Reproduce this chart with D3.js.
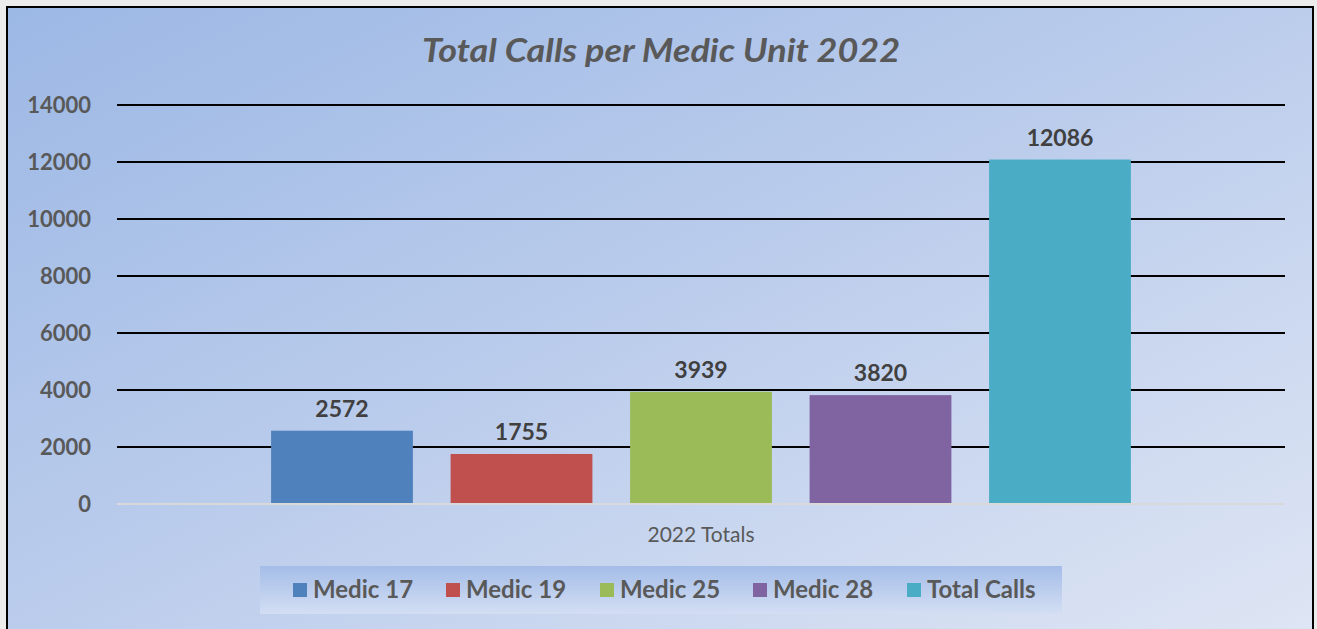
<!DOCTYPE html>
<html>
<head>
<meta charset="utf-8">
<script src="https://cdn.jsdelivr.net/npm/d3@7"></script>
<style>
  html, body { margin: 0; padding: 0; background: #ececec; }
  svg { display: block; }
  text { font-family: Lato, "Open Sans", sans-serif; }
</style>
</head>
<body>
<script>
// chart data
var categories = ['2022 Totals'];
var seriesNames = ['Medic 17', 'Medic 19', 'Medic 25', 'Medic 28', 'Total Calls'];
var seriesValues = [2572, 1755, 3939, 3820, 12086];
var seriesColors = ['#4f81bd', '#c0504d', '#9bbb59', '#8064a2', '#4bacc6'];
var yTicks = [0, 2000, 4000, 6000, 8000, 10000, 12000, 14000];

var width = 1317, height = 629;
var plot = { left: 117, right: 1285, top: 105, bottom: 504 };

var svg = d3.select('body').append('svg').attr('width', width).attr('height', height);
var defs = svg.append('defs');

// background gradients
var bg = defs.append('linearGradient').attr('id', 'bg')
  .attr('x1', '0%').attr('y1', '0%').attr('x2', '100%').attr('y2', '100%');
bg.append('stop').attr('offset', '0%').attr('stop-color', '#9cb8e5');
bg.append('stop').attr('offset', '50%').attr('stop-color', '#bccdec');
bg.append('stop').attr('offset', '100%').attr('stop-color', '#dfe6f4');

var lg = defs.append('linearGradient').attr('id', 'lg')
  .attr('x1', '0%').attr('y1', '0%').attr('x2', '0%').attr('y2', '100%');
lg.append('stop').attr('offset', '0%').attr('stop-color', '#a4bde8');
lg.append('stop').attr('offset', '100%').attr('stop-color', '#d3def3');

// frame
svg.append('rect').attr('x', 7).attr('y', 7).attr('width', 1306).attr('height', 640)
  .attr('fill', 'url(#bg)').attr('stroke', '#000').attr('stroke-width', 2);

// title
svg.append('text')
  .attr('x', 661).attr('y', 62)
  .attr('text-anchor', 'middle')
  .attr('font-size', 32).attr('font-weight', 'bold').attr('font-style', 'italic')
  .attr('fill', '#595959')
  .attr('textLength', 478).attr('lengthAdjust', 'spacingAndGlyphs')
  .text('Total Calls per Medic Unit 2022');

// scales
var y = d3.scaleLinear().domain([0, 14000]).range([plot.bottom, plot.top]);
var x0 = d3.scaleBand().domain(categories).range([plot.left, plot.right])
  .paddingInner(0).paddingOuter(0.1507);
var x1 = d3.scaleBand().domain(seriesNames).range([0, x0.bandwidth()])
  .paddingInner(0.21).paddingOuter(0.105);
var color = d3.scaleOrdinal().domain(seriesNames).range(seriesColors);

// gridlines
svg.append('g').selectAll('line')
  .data(yTicks.filter(function (d) { return d > 0; }))
  .enter().append('line')
  .attr('x1', plot.left).attr('x2', plot.right)
  .attr('y1', function (d) { return y(d); })
  .attr('y2', function (d) { return y(d); })
  .attr('stroke', '#000').attr('stroke-width', 2);

// y axis labels
var yAxis = svg.append('g')
  .attr('transform', 'translate(' + (plot.left - 26) + ',0)')
  .call(d3.axisLeft(y).tickValues(yTicks).tickSize(0).tickPadding(0).tickFormat(d3.format('d')));
yAxis.select('.domain').remove();
yAxis.selectAll('text')
  .attr('font-family', 'Lato, "Open Sans", sans-serif')
  .attr('font-size', 22).attr('font-weight', 'bold').attr('fill', '#595959');

// bars
var rows = seriesNames.map(function (n, i) { return { name: n, value: seriesValues[i] }; });
var group = svg.append('g').selectAll('g')
  .data(categories).enter().append('g')
  .attr('transform', function (d) { return 'translate(' + x0(d) + ',0)'; });

group.selectAll('rect')
  .data(rows).enter().append('rect')
  .attr('x', function (d) { return x1(d.name); })
  .attr('y', function (d) { return y(d.value); })
  .attr('width', x1.bandwidth())
  .attr('height', function (d) { return y(0) - y(d.value); })
  .attr('fill', function (d) { return color(d.name); });

group.selectAll('text.val')
  .data(rows).enter().append('text')
  .attr('class', 'val')
  .attr('x', function (d) { return x1(d.name) + x1.bandwidth() / 2; })
  .attr('y', function (d) { return y(d.value) - 14; })
  .attr('text-anchor', 'middle')
  .attr('font-size', 23).attr('font-weight', 'bold').attr('fill', '#404040')
  .text(function (d) { return d.value; });

// baseline
svg.append('line')
  .attr('x1', plot.left).attr('x2', plot.right)
  .attr('y1', y(0)).attr('y2', y(0))
  .attr('stroke', '#d9d9d9').attr('stroke-width', 2);

// category label
svg.append('text')
  .attr('x', x0(categories[0]) + x0.bandwidth() / 2).attr('y', 542)
  .attr('text-anchor', 'middle')
  .attr('font-size', 21).attr('fill', '#595959')
  .text(categories[0]);

// legend
svg.append('rect').attr('x', 260).attr('y', 566).attr('width', 802).attr('height', 48)
  .attr('fill', 'url(#lg)');
var legendX = [293, 446, 600, 753, 907];
var legend = svg.append('g').selectAll('g')
  .data(seriesNames).enter().append('g')
  .attr('transform', function (d, i) { return 'translate(' + legendX[i] + ',583)'; });
legend.append('rect').attr('width', 14).attr('height', 14)
  .attr('fill', function (d) { return color(d); });
legend.append('text')
  .attr('x', 20).attr('y', 15)
  .attr('font-size', 24).attr('font-weight', 'bold').attr('fill', '#595959')
  .text(function (d) { return d; });
</script>
</body>
</html>
